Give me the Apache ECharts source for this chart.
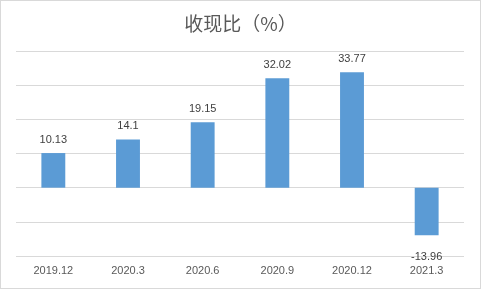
<!DOCTYPE html>
<html><head><meta charset="utf-8">
<script src="https://cdn.jsdelivr.net/npm/echarts@6/dist/echarts.min.js"></script>
<style>html,body{margin:0;padding:0;background:#fff}#c{width:481px;height:289px;box-sizing:border-box;border:1px solid #d9d9d9}</style>
</head><body><div id="c"></div>
<script>
var categories = ['2019.12','2020.3','2020.6','2020.9','2020.12','2021.3'];
var values = [10.13, 14.1, 19.15, 32.02, 33.77, -13.96];
var chart = echarts.init(document.getElementById('c'));
chart.setOption({
  animation:false,
  title:{text:'收现比（%）',left:'center',top:8,textStyle:{fontFamily:'Noto Sans CJK SC',fontSize:19,fontWeight:'normal',color:'#595959'}},
  grid:{left:15,right:16,top:50,bottom:32},
  xAxis:{type:'category',data:categories,axisLine:{show:false},axisTick:{show:false},
    axisLabel:{color:'#595959',fontSize:11,fontFamily:'Liberation Sans',margin:9}},
  yAxis:{type:'value',min:-20,max:40,interval:10,axisLabel:{show:false},axisLine:{show:false},axisTick:{show:false},
    splitLine:{lineStyle:{color:'#d9d9d9',width:1}}},
  series:[{type:'bar',
    data:values.map(function(v){return v<0?{value:v,label:{position:'bottom',offset:[0,8]}}:v;}),
    barWidth:'32%',itemStyle:{color:'#5b9bd5'},
    label:{show:true,position:'top',distance:8,color:'#404040',fontSize:11,fontFamily:'Liberation Sans',
      formatter:function(p){return String(p.value);}}}]
});
</script></body></html>
